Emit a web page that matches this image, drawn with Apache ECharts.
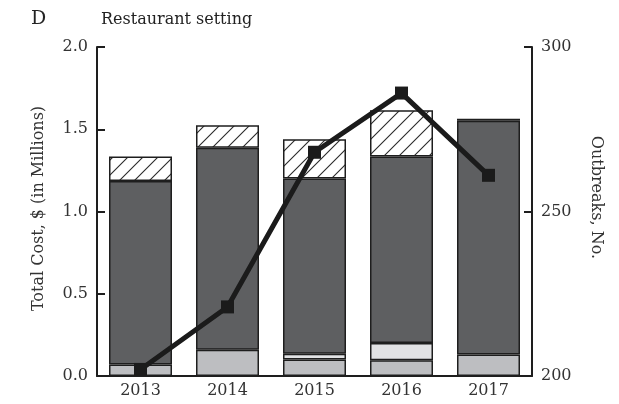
<!DOCTYPE html>
<html>
<head>
<meta charset="utf-8">
<script src="https://cdn.jsdelivr.net/npm/echarts@6/dist/echarts.min.js"></script>
<style>
  html, body { margin: 0; padding: 0; background: #ffffff; }
  #chart { width: 619px; height: 404px; }
</style>
</head>
<body>
<div id="chart"></div>
<script>
// Restaurant setting: outbreak costs (stacked bars) and outbreak counts (line)
const years = ['2013', '2014', '2015', '2016', '2017'];

// Cost components, $ millions, bottom to top
const costLower = [0.07, 0.16, 0.10, 0.095, 0.13];
const costLight = [0, 0, 0.035, 0.105, 0];
const costMain = [1.116, 1.227, 1.066, 1.134, 1.422];
const costHatched = [0.149, 0.138, 0.238, 0.281, 0.012];

// Outbreak counts
const outbreaks = [202, 221, 268, 286, 261];

const costTicks = { min: 0, max: 2, interval: 0.5 };
const outbreakTicks = { min: 200, max: 300, interval: 50 };

const FONT = 'DejaVu Serif';
const INK = '#1e1e1e';

// Diagonal hatch tile for the top cost component
function hatchPattern() {
  const s = 15;
  const c = document.createElement('canvas');
  c.width = s; c.height = s;
  const g = c.getContext('2d');
  g.fillStyle = '#ffffff';
  g.fillRect(0, 0, s, s);
  g.strokeStyle = '#2a2a2a';
  g.lineWidth = 1.1;
  g.beginPath();
  g.moveTo(-2, s + 2); g.lineTo(s + 2, -2);
  g.moveTo(-2, 2); g.lineTo(2, -2);
  g.moveTo(s - 2, s + 2); g.lineTo(s + 2, s - 2);
  g.stroke();
  return { image: c, repeat: 'repeat' };
}

// Empty components are left out so no zero-height outline is stroked
const noZero = arr => arr.map(v => (v === 0 ? null : v));

const barBase = {
  type: 'bar',
  stack: 'cost',
  barWidth: 63,
  yAxisIndex: 0,
  silent: true
};
function barStyle(color) {
  return { color: color, borderColor: INK, borderWidth: 1.5 };
}

const chart = echarts.init(document.getElementById('chart'), null, { renderer: 'canvas' });

chart.setOption({
  animation: false,
  backgroundColor: '#ffffff',
  textStyle: { fontFamily: FONT },
  title: [
    { text: 'D', left: 26, top: 5, textStyle: { fontFamily: FONT, fontSize: 19, fontWeight: 'normal', color: '#222' } },
    { text: 'Restaurant setting', left: 96, top: 7, textStyle: { fontFamily: FONT, fontSize: 16, fontWeight: 'normal', color: '#222' } }
  ],
  grid: { left: 97, right: 87, top: 47, bottom: 28, containLabel: false },
  xAxis: {
    type: 'category',
    data: years,
    boundaryGap: true,
    axisLine: { lineStyle: { color: INK, width: 2 } },
    axisTick: { inside: true, length: 7, lineStyle: { color: INK, width: 2 } },
    axisLabel: { color: '#333', fontFamily: FONT, fontSize: 16, margin: 7 }
  },
  yAxis: [
    {
      type: 'value',
      min: costTicks.min, max: costTicks.max, interval: costTicks.interval,
      name: 'Total Cost, $ (in Millions)',
      nameLocation: 'middle',
      nameRotate: 90,
      nameGap: 50,
      nameTextStyle: { fontFamily: FONT, fontSize: 16, color: '#333', padding: [0, 0, 0, 6] },
      axisLine: { show: true, lineStyle: { color: INK, width: 2 } },
      axisTick: { show: true, inside: true, length: 8, lineStyle: { color: INK, width: 2 } },
      axisLabel: { color: '#333', fontFamily: FONT, fontSize: 16, margin: 9, formatter: v => v.toFixed(1) },
      splitLine: { show: false }
    },
    {
      type: 'value',
      position: 'right',
      min: outbreakTicks.min, max: outbreakTicks.max, interval: outbreakTicks.interval,
      name: 'Outbreaks, No.',
      nameLocation: 'middle',
      nameRotate: -90,
      nameGap: 56,
      nameTextStyle: { fontFamily: FONT, fontSize: 16, color: '#333', padding: [0, 28, 0, 0] },
      axisLine: { show: true, lineStyle: { color: INK, width: 2 } },
      axisTick: { show: true, inside: true, length: 8, lineStyle: { color: INK, width: 2 } },
      axisLabel: { color: '#333', fontFamily: FONT, fontSize: 16, margin: 9 },
      splitLine: { show: false }
    }
  ],
  series: [
    Object.assign({}, barBase, { name: 'lower', data: noZero(costLower), itemStyle: barStyle('#bdbec1') }),
    Object.assign({}, barBase, { name: 'light', data: noZero(costLight), itemStyle: barStyle('#e1e2e4') }),
    Object.assign({}, barBase, { name: 'main', data: noZero(costMain), itemStyle: barStyle('#5e5f61') }),
    Object.assign({}, barBase, { name: 'hatched', data: noZero(costHatched), itemStyle: barStyle(hatchPattern()) }),
    {
      name: 'outbreaks',
      type: 'line',
      yAxisIndex: 1,
      data: outbreaks,
      z: 5,
      symbol: 'rect',
      symbolSize: 13,
      lineStyle: { color: '#1b1b1b', width: 5 },
      itemStyle: { color: '#1b1b1b' },
      silent: true
    }
  ]
});
</script>
</body>
</html>
